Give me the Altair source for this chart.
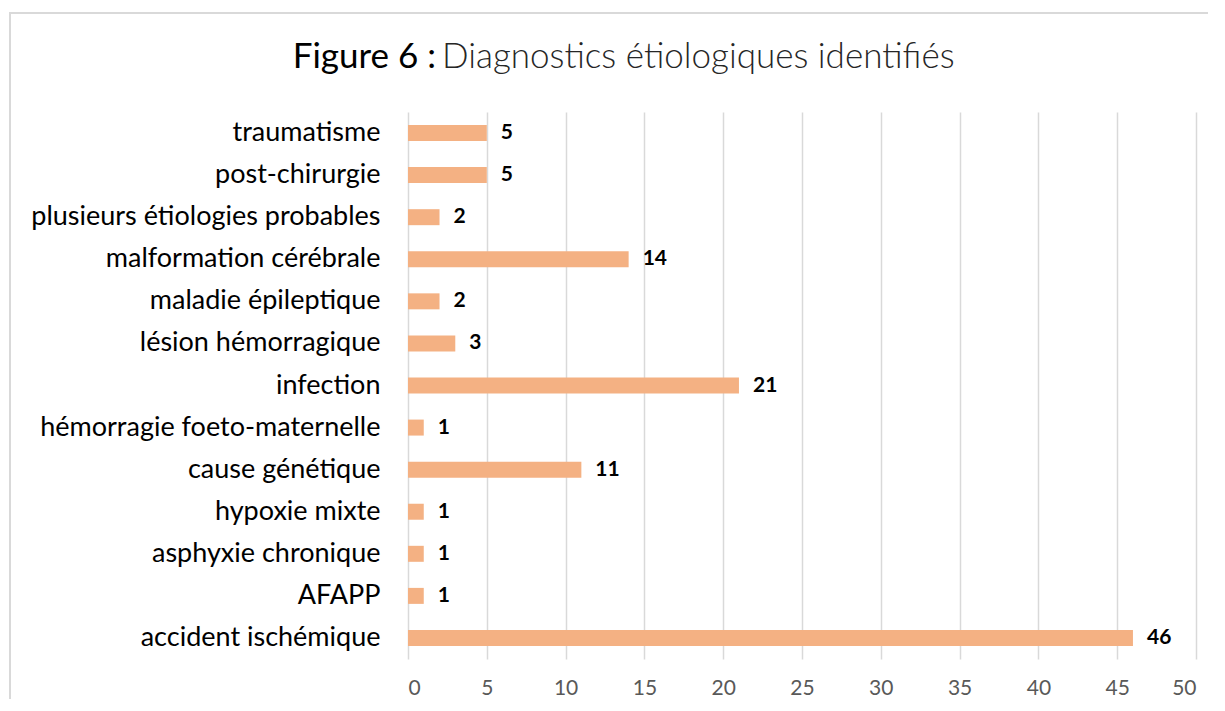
import altair as alt
import pandas as pd

categories = ["traumatisme", "post-chirurgie", "plusieurs étiologies probables",
              "malformation cérébrale", "maladie épileptique", "lésion hémorragique",
              "infection", "hémorragie foeto-maternelle", "cause génétique",
              "hypoxie mixte", "asphyxie chronique", "AFAPP", "accident ischémique"]
values = [5, 5, 2, 14, 2, 3, 21, 1, 11, 1, 1, 1, 46]
x_ticks = [0, 5, 10, 15, 20, 25, 30, 35, 40, 45, 50]
title_bold = "Figure 6 :"
title_rest = "Diagnostics étiologiques identifiés"

df = pd.DataFrame({"cat": categories, "val": values})

FONT = "Lato"

y_enc = alt.Y("cat:N", sort=categories, title=None,
              scale=alt.Scale(paddingInner=0.62, paddingOuter=0.31),
              axis=alt.Axis(labelFont=FONT, labelFontSize=27, labelColor="#000000",
                            labelPadding=28, ticks=False, domain=False, grid=False,
                            labelLimit=400))
x_enc = alt.X("val:Q", title=None,
              scale=alt.Scale(domain=[0, 50], nice=False),
              axis=alt.Axis(values=x_ticks, labelFont=FONT, labelFontSize=21,
                            labelColor="#595959", labelPadding=18, ticks=False,
                            domain=False, grid=True, gridColor="#d9d9d9",
                            gridWidth=1.5))

bars = alt.Chart(df).mark_bar(color="#F4B183").encode(x=x_enc, y=y_enc)

labels = alt.Chart(df).mark_text(align="left", baseline="middle", dx=14,
                                 font=FONT, fontSize=21, fontWeight="bold",
                                 color="#000000").encode(
    x="val:Q", y=alt.Y("cat:N", sort=categories), text="val:Q")

frame_df = pd.DataFrame({"k": [0]})
frame = alt.Chart(frame_df).mark_rect(fillOpacity=0, stroke="#d9d9d9",
                                      strokeWidth=2).encode(
    x=alt.value(-398), x2=alt.value(900), y=alt.value(-99), y2=alt.value(700))

t_df = pd.DataFrame({"a": [title_bold], "b": [title_rest]})
t1 = alt.Chart(t_df).mark_text(align="right", baseline="alphabetic",
                               font=FONT, fontSize=35, fontWeight="normal",
                               color="#000000").encode(
    x=alt.value(28), y=alt.value(-44), text="a:N")
t2 = alt.Chart(t_df).mark_text(align="left", baseline="alphabetic",
                               font=FONT, fontSize=35, fontWeight=300,
                               color="#262626").encode(
    x=alt.value(34), y=alt.value(-44), text="b:N")

chart = alt.layer(frame, bars, labels, t1, t2).properties(
    width=788, height=547,
    autosize=alt.AutoSizeParams(type="none"),
    padding={"left": 400, "top": 104, "right": 12, "bottom": 40},
).configure_view(stroke=None)

chart.save("out.html", embed_options={"renderer": "svg", "actions": False})
